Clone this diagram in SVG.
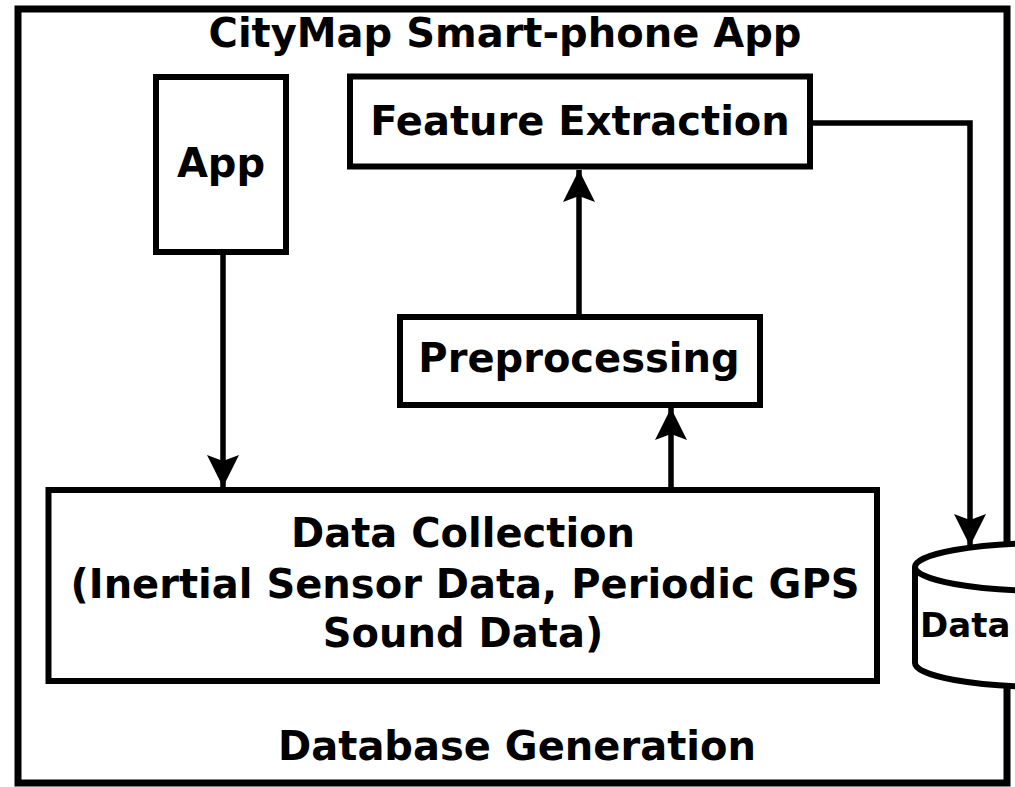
<svg xmlns="http://www.w3.org/2000/svg" width="1015" height="787" viewBox="0 0 1015 787">
<defs>
<style>
.box{fill:#fff;stroke:#000;stroke-width:6}
.ln{fill:none;stroke:#000;stroke-width:5.5}
.t{font-family:"DejaVu Sans",sans-serif;font-weight:bold;font-size:40px;fill:#000;text-anchor:middle}
</style>
<marker id="ah" markerUnits="userSpaceOnUse" markerWidth="36" markerHeight="36" viewBox="-34 -18 36 36" refX="0" refY="0" orient="auto">
<path d="M0,0 L-32,-16 L-26,0 L-32,16 Z" fill="#000"/>
</marker>
</defs>
<rect width="1015" height="787" fill="#fff"/>
<g id="frame">
<rect x="18" y="9" width="989" height="774" fill="none" stroke="#000" stroke-width="7"/>
<text class="t" x="505" y="47">CityMap Smart-phone App</text>
<text class="t" x="517" y="760">Database Generation</text>
</g>
<g id="connectors">
<path class="ln" d="M223,254 V487" marker-end="url(#ah)"/>
<path class="ln" d="M671,489 V408" marker-end="url(#ah)"/>
<path class="ln" d="M579,316 V170" marker-end="url(#ah)"/>
<path class="ln" d="M812,123 H970 V546" marker-end="url(#ah)"/>
</g>
<g id="app">
<rect class="box" x="156" y="77" width="130" height="175"/>
<text class="t" x="221" y="177">App</text>
</g>
<g id="feature-extraction">
<rect class="box" x="350" y="76.5" width="460" height="90"/>
<text class="t" x="580" y="135">Feature Extraction</text>
</g>
<g id="preprocessing">
<rect class="box" x="400" y="317" width="360" height="88"/>
<text class="t" x="579" y="372">Preprocessing</text>
</g>
<g id="data-collection">
<rect class="box" x="48.5" y="490" width="828.5" height="191"/>
<text class="t" x="463" y="547">Data Collection</text>
<text class="t" x="465" y="598">(Inertial Sensor Data, Periodic GPS</text>
<text class="t" x="463" y="647">Sound Data)</text>
</g>
<g id="database">
<path class="box" d="M915,567 V663 A135,24 0 0 0 1185,663 V567"/>
<ellipse class="box" cx="1050" cy="567" rx="135" ry="24"/>
<text class="t" x="920" y="637" style="text-anchor:start;font-size:34px">Data</text>
</g>
</svg>
